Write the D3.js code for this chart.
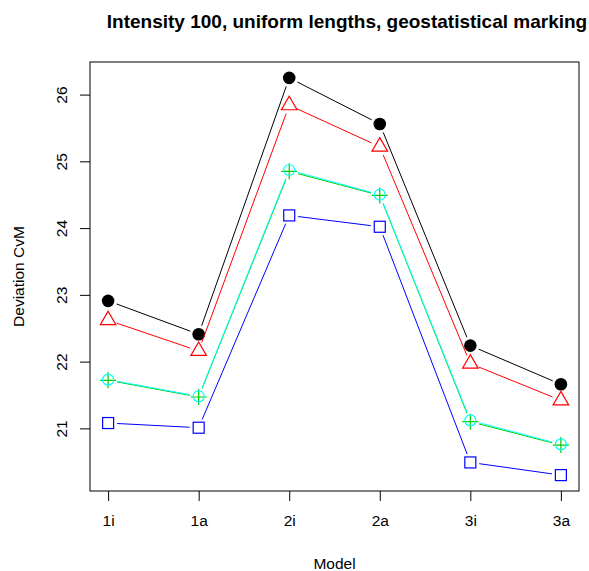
<!DOCTYPE html>
<html>
<head>
<meta charset="utf-8">
<script src="https://cdn.jsdelivr.net/npm/d3@7"></script>
<style>
  body { margin: 0; background: #fff; }
  text { font-family: "Liberation Sans", Arial, sans-serif; fill: #000; }
</style>
</head>
<body>
<svg id="chart" width="589" height="571"></svg>
<script>
// models on the x axis
const models = ['1i', '1a', '2i', '2a', '3i', '3a'];
const yTicks = [21, 22, 23, 24, 25, 26];

// deviation values, one array per series
const black = [22.91, 22.41, 26.25, 25.56, 22.24, 21.66];
const red = [22.62, 22.16, 25.84, 25.22, 21.97, 21.42];
const cyan = [21.73, 21.48, 24.87, 24.50, 21.12, 20.76];
const green = [21.72, 21.47, 24.85, 24.49, 21.10, 20.75];
const blue = [21.08, 21.01, 24.19, 24.02, 20.49, 20.30];

const svg = d3.select('#chart'),
  pLeft = 90, pRight = 579, pTop = 62, pBottom = 491;

const x = d3.scaleLinear().domain([0.8, 6.2]).range([pLeft, pRight]);
const allVals = black.concat(red, cyan, green, blue);
const ext = d3.extent(allVals), pad = (ext[1] - ext[0]) * 0.04;
const y = d3.scaleLinear().domain([ext[0] - pad, ext[1] + pad]).range([pBottom, pTop]);

// plot box
svg.append('rect')
  .attr('x', pLeft).attr('y', pTop)
  .attr('width', pRight - pLeft).attr('height', pBottom - pTop)
  .attr('fill', 'none').attr('stroke', '#000').attr('stroke-width', 1);

// x axis
const xAxis = svg.append('g')
  .attr('transform', `translate(0,${pBottom})`)
  .call(d3.axisBottom(x)
    .tickValues(d3.range(1, 7))
    .tickSize(10)
    .tickPadding(14)
    .tickFormat(d => models[d - 1]));
xAxis.select('.domain').remove();
xAxis.selectAll('text').attr('font-size', 15.5);

// y axis, labels rotated like R
const yAxis = svg.append('g')
  .attr('transform', `translate(${pLeft},0)`)
  .call(d3.axisLeft(y).tickValues(yTicks).tickSize(10).tickFormat(d3.format('d')));
yAxis.select('.domain').remove();
yAxis.selectAll('text')
  .attr('font-size', 15.5)
  .attr('x', null)
  .attr('text-anchor', 'middle')
  .attr('transform', 'translate(-28,0) rotate(-90)')
  .attr('dy', '0.35em');
svg.selectAll('.tick line').attr('stroke', '#000');

// titles
svg.append('text')
  .attr('x', 347).attr('y', 28)
  .attr('text-anchor', 'middle')
  .attr('font-size', 19).attr('font-weight', 'bold')
  .text('Intensity 100, uniform lengths, geostatistical marking');

svg.append('text')
  .attr('x', (pLeft + pRight) / 2).attr('y', 569)
  .attr('text-anchor', 'middle')
  .attr('font-size', 15.5)
  .text('Model');

svg.append('text')
  .attr('transform', `translate(24,${(pTop + pBottom) / 2}) rotate(-90)`)
  .attr('text-anchor', 'middle')
  .attr('font-size', 15.5)
  .text('Deviation CvM');

// type="b" lines: segments with a gap around each point
const gap = 9;
function drawLine(vals, col) {
  const pts = vals.map((v, i) => [x(i + 1), y(v)]);
  for (let i = 0; i < pts.length - 1; i++) {
    const [x0, y0] = pts[i], [x1, y1] = pts[i + 1];
    const len = Math.hypot(x1 - x0, y1 - y0);
    if (len <= 2 * gap) continue;
    const ux = (x1 - x0) / len, uy = (y1 - y0) / len;
    svg.append('line')
      .attr('x1', x0 + ux * gap).attr('y1', y0 + uy * gap)
      .attr('x2', x1 - ux * gap).attr('y2', y1 - uy * gap)
      .attr('stroke', col).attr('stroke-width', 1);
  }
}

const g = svg.append('g');

// black filled circles
drawLine(black, '#000');
g.selectAll('.pBlack').data(black).enter().append('circle')
  .attr('cx', (d, i) => x(i + 1)).attr('cy', d => y(d))
  .attr('r', 6.3).attr('fill', '#000');

// red triangles
drawLine(red, '#ff0000');
const tri = d3.symbol().type(d3.symbolTriangle).size(105);
g.selectAll('.pRed').data(red).enter().append('path')
  .attr('d', tri)
  .attr('transform', (d, i) => `translate(${x(i + 1)},${y(d)})`)
  .attr('fill', 'none').attr('stroke', '#ff0000').attr('stroke-width', 1.2);

// green plus
drawLine(green, '#00cd00');
g.selectAll('.pGreen').data(green).enter().append('path')
  .attr('d', 'M-8,0H8M0,-8V8')
  .attr('transform', (d, i) => `translate(${x(i + 1)},${y(d)})`)
  .attr('fill', 'none').attr('stroke', '#00cd00').attr('stroke-width', 1.2);

// cyan open circles
drawLine(cyan, '#00ffff');
g.selectAll('.pCyan').data(cyan).enter().append('circle')
  .attr('cx', (d, i) => x(i + 1)).attr('cy', d => y(d))
  .attr('r', 5.5).attr('fill', 'none').attr('stroke', '#00ffff').attr('stroke-width', 1.2);

// blue open squares
drawLine(blue, '#0000ff');
g.selectAll('.pBlue').data(blue).enter().append('rect')
  .attr('x', (d, i) => x(i + 1) - 5.5).attr('y', d => y(d) - 5.5)
  .attr('width', 11).attr('height', 11)
  .attr('fill', 'none').attr('stroke', '#0000ff').attr('stroke-width', 1.2);
</script>
</body>
</html>
